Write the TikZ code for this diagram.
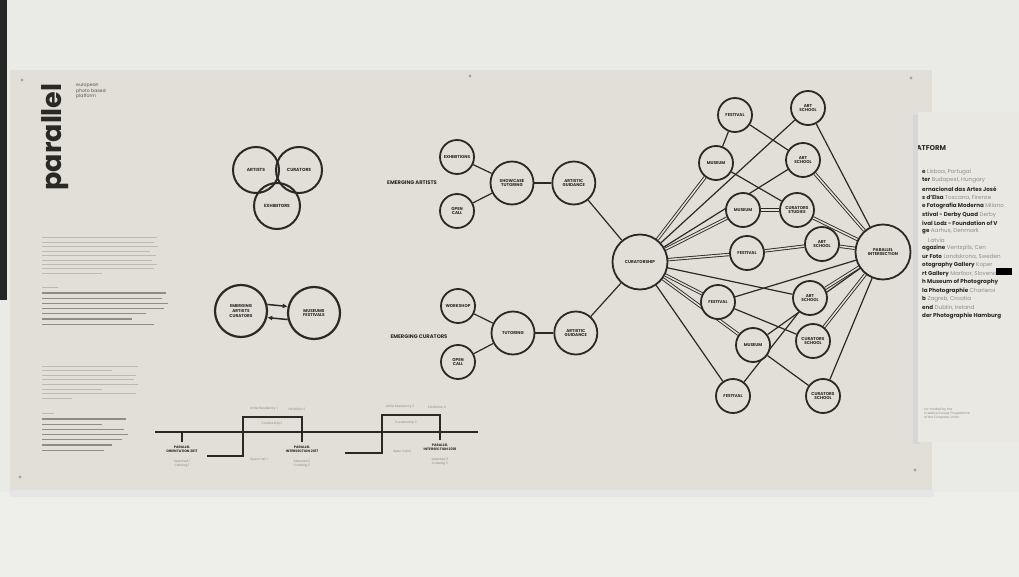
\documentclass[tikz,border=0pt]{standalone}
\usepackage{fontspec}
\setmainfont{Poppins}
\usetikzlibrary{arrows.meta,positioning,backgrounds}
\definecolor{ink}{HTML}{2A2926}
\definecolor{panel}{HTML}{E2DFD8}
\definecolor{wall}{HTML}{EAEAE7}
\definecolor{lowwall}{HTML}{EEEEEB}
\definecolor{greytext}{HTML}{8F8C86}
\definecolor{sidepanel}{HTML}{EAE8E3}
\pgfdeclarelayer{edges}
\pgfsetlayers{background,edges,main}
\tikzset{
  hub/.style={draw=ink, circle, line width=1.8pt, fill=panel, inner sep=0pt, align=center, text=ink, font=\fontsize{4.2}{4.9}\selectfont\bfseries},
  hubsmall/.style={hub, minimum size=34pt},
  hubmid/.style={hub, minimum size=43pt},
  hubbig/.style={hub, minimum size=55pt},
  venn/.style={draw=ink, circle, line width=2pt, minimum size=46pt, inner sep=0pt, align=center, text=ink, font=\fontsize{4.4}{5}\selectfont\bfseries},
  link/.style={draw=ink, line width=1.2pt},
  twin/.style={draw=ink, line width=0.9pt, double=panel, double distance=1.5pt},
  arr/.style={-{Latex[length=5pt,width=5pt]}, draw=ink, line width=1.5pt},
  caption/.style={font=\fontsize{5.2}{6}\selectfont\bfseries, text=ink},
  tinygrey/.style={font=\fontsize{3.2}{3.9}\selectfont, text=greytext, align=center},
  tinybold/.style={font=\fontsize{3.4}{4.1}\selectfont\bfseries, text=ink, align=center},
  timeline/.style={draw=ink, line width=1.4pt},
  greek/.style={draw=greytext!60, line width=1pt},
  greekdark/.style={draw=greytext, line width=1.1pt},
  listline/.style={anchor=west, inner sep=0pt, font=\fontsize{5.6}{6}\selectfont, text=greytext}
}
\begin{document}
\begin{tikzpicture}[x=1pt,y=-1pt]
\useasboundingbox (0,0) rectangle (1019,577);
% wall and panels
\begin{pgfonlayer}{background}
\fill[wall] (0,0) rectangle (1019,577);
\fill[lowwall] (0,492) rectangle (1019,577);
\fill[black!85] (0,0) rectangle (7,300);
\fill[black!10] (10,489) rectangle (934,497);
\fill[panel] (10,70) rectangle (932,490);
\foreach \p in {(22,80),(470,76),(911,78),(20,477),(915,470)}
  \fill[black!35] \p circle (1.6);
\fill[black!16] (913,115) rectangle (920,444);
\fill[sidepanel] (918,112) rectangle (1019,442);
\end{pgfonlayer}

% title block
\node[rotate=90, inner sep=0pt, text=ink, font=\fontsize{27}{27}\selectfont\bfseries] (brand) at (55,137) {parallel};
\node[anchor=north west, align=left, inner sep=0pt, text=ink!80, font=\fontsize{4.6}{5.4}\selectfont] (tagline) at (76,84) {european\\photo based\\platform};

% text columns
\foreach \i/\w in {0/115,1/112,2/116,3/108,4/114,5/110,6/115,7/112,8/60}
  \draw[greek] (42,238+4.4*\i) -- ++(\w,0);
\draw[greek] (42,287) -- ++(16,0);
\foreach \i/\w in {0/124,1/120,2/126,3/122,4/104,5/90,6/112}
  \draw[greekdark] (42,293+5.2*\i) -- ++(\w,0);
\foreach \i/\w in {0/96,1/70,2/94,3/92,4/96,5/60,6/94,7/30}
  \draw[greek] (42,366+4.6*\i) -- ++(\w,0);
\draw[greek] (42,413) -- ++(12,0);
\foreach \i/\w in {0/84,1/60,2/82,3/86,4/80,5/70,6/62}
  \draw[greekdark] (42,419+5.2*\i) -- ++(\w,0);

% three circles
\node[venn] (artists) at (256,170) {ARTISTS};
\node[venn] (curators) at (299,170) {CURATORS};
\node[venn] (exhibitors) at (277,206) {EXHIBITORS};

% emerging exchange
\node[hub, minimum size=52pt, line width=2.2pt] (emerging) at (241,311) {EMERGING\\ARTISTS\\CURATORS};
\node[hub, minimum size=52pt, line width=2.2pt] (museums) at (314,313) {MUSEUMS\\FESTIVALS};
\draw[arr] (emerging.14) -- (museums.166);
\draw[arr] (museums.194) -- (emerging.346);

% emerging artists
\node[caption] (artistsLabel) at (412,183) {EMERGING ARTISTS};
\node[hubsmall] (exhib) at (457,157) {EXHIBITIONS};
\node[hubsmall] (callA) at (457,211) {OPEN\\CALL};
\node[hubmid] (showcase) at (512,183) {SHOWCASE\\TUTORING};
\node[hubmid, right=17pt of showcase] (guideA) {ARTISTIC\\GUIDANCE};

% emerging curators
\node[caption] (curatorsLabel) at (419,337) {EMERGING CURATORS};
\node[hubsmall] (workshop) at (458,306) {WORKSHOP};
\node[hubsmall] (callC) at (458,362) {OPEN\\CALL};
\node[hubmid] (tutoring) at (513,333) {TUTORING};
\node[hubmid, right=18pt of tutoring] (guideC) {ARTISTIC\\GUIDANCE};

% network
\node[hubbig] (curship) at (640,262) {CURATORSHIP};
\node[hubbig] (inter) at (883,252) {PARALLEL\\INTERSECTION};
\node[hubsmall] (festA) at (735,115) {FESTIVAL};
\node[hubsmall] (musA) at (716,163) {MUSEUM};
\node[hubsmall] (musB) at (743,210) {MUSEUM};
\node[hubsmall] (festB) at (747,253) {FESTIVAL};
\node[hubsmall] (festC) at (718,302) {FESTIVAL};
\node[hubsmall] (musC) at (753,345) {MUSEUM};
\node[hubsmall] (festD) at (733,396) {FESTIVAL};
\node[hubsmall] (artA) at (808,108) {ART\\SCHOOL};
\node[hubsmall] (artB) at (803,160) {ART\\SCHOOL};
\node[hubsmall] (curStud) at (797,210) {CURATORS\\STUDIES};
\node[hubsmall] (artC) at (822,244) {ART\\SCHOOL};
\node[hubsmall] (artD) at (810,298) {ART\\SCHOOL};
\node[hubsmall] (curSchA) at (813,341) {CURATORS\\SCHOOL};
\node[hubsmall] (curSchB) at (823,396) {CURATORS\\SCHOOL};

\begin{pgfonlayer}{edges}
\foreach \a/\b in {exhib/showcase, callA/showcase, showcase/guideA, guideA/curship,
  workshop/tutoring, callC/tutoring, tutoring/guideC, guideC/curship,
  curship/artA, curship/artB, curship/artD, curship/festD,
  festA/musA, festA/artB, musA/curStud, festC/curSchA, festC/inter,
  festD/artD, musC/curSchB, musC/inter, artA/inter, curSchB/inter}
  \draw[link] (\a) -- (\b);
\foreach \a/\b in {curship/musA, curship/musB, curship/festB, curship/festC, curship/musC,
  musB/curStud, festB/artC, artB/inter, curStud/inter, artC/inter, artD/inter, curSchA/inter}
  \draw[twin] (\a) -- (\b);
\end{pgfonlayer}

% timeline
\coordinate (tlStart) at (155,432);
\coordinate (tlEnd) at (478,432);
\draw[timeline] (tlStart) -- (tlEnd);
\coordinate (tickA) at (182,432);
\coordinate (tickB) at (302,432);
\coordinate (tickC) at (440,432);
\node[tinybold] (orient) at (182,449) {PARALLEL\\ORIENTATION 2017};
\node[tinygrey, below=1pt of orient] (orientSub) {Selected 1\\Catalog 1};
\node[tinybold] (interA) at (302,449) {PARALLEL\\INTERSECTION 2017};
\node[tinygrey, below=1pt of interA] (interASub) {Selected 2\\Catalog 2};
\node[tinybold] (interB) at (440,447) {PARALLEL\\INTERSECTION 2018};
\node[tinygrey, below=1pt of interB] (interBSub) {Selected 3\\Catalog 3};
\draw[ink, line width=2.4pt] (tickA) -- (orient.north);
\draw[ink, line width=2.4pt] ([yshift=3pt]tickB) -- (interA.north);
\draw[ink, line width=2.4pt] ([yshift=3pt]tickC) -- (interB.north);
\coordinate (stepA) at (207,456);
\coordinate (stepB) at (345,453);
\draw[timeline, line width=1.3pt] (stepA) -| (243,417) -| (tickB);
\draw[timeline, line width=1.3pt] (stepB) -| (382,415) -| (tickC);
\node[tinygrey] (resA) at (264,409) {Artist Residency 1};
\node[tinygrey] (exA) at (297,409) {Exhibition 1};
\node[tinygrey] (curA) at (272,424) {Curatorship 1};
\node[tinygrey] (callLabelA) at (259,460) {Open Call 1};
\node[tinygrey] (resB) at (400,407) {Artist Residency 2};
\node[tinygrey] (exB) at (437,407) {Exhibition 2};
\node[tinygrey] (curB) at (406,423) {Curatorship 2};
\node[tinygrey] (callLabelB) at (402,452) {Open Call 2};

% partner panel
\begin{scope}
\clip (918,112) rectangle (1019,442);
\node[anchor=west, inner sep=0pt, text=ink, font=\fontsize{7}{7}\selectfont\bfseries] (platform) at (913,148) {LATFORM};
\foreach \t [count=\k] in {{\textbf{\color{ink}e} Lisboa, Portugal},
  {\textbf{\color{ink}ter} Budapest, Hungary},
  {\textbf{\color{ink}ernacional das Artes José}},
  {\textbf{\color{ink}s d'Elsa} Toscana, Firenze},
  {\textbf{\color{ink}e Fotografia Moderna} Milano},
  {\textbf{\color{ink}stival - Derby Quad} Derby},
  {\textbf{\color{ink}ival Lodz - Foundation of V}},
  {\textbf{\color{ink}ge} Aarhus, Denmark},
  {\hspace*{6pt}Latvia},
  {\textbf{\color{ink}agazine} Ventspils, Cen},
  {\textbf{\color{ink}ur Foto} Landskrona, Sweden},
  {\textbf{\color{ink}otography Gallery} Koper},
  {\textbf{\color{ink}rt Gallery} Maribor, Slovenia},
  {\textbf{\color{ink}h Museum of Photography}},
  {\textbf{\color{ink}la Photographie} Charleroi},
  {\textbf{\color{ink}b} Zagreb, Croatia},
  {\textbf{\color{ink}end} Dublin, Ireland},
  {\textbf{\color{ink}der Photographie Hamburg}}}
  \node[listline] (partner\k) at (922,163.5+8.5*\k) {\t};
\fill[black] (996,268) rectangle (1012,275);
\node[anchor=north west, align=left, inner sep=0pt, text=greytext, font=\fontsize{3.2}{4}\selectfont] (funding) at (924,408) {co-funded by the\\Creative Europe Programme\\of the European Union};
\end{scope}
\end{tikzpicture}
\end{document}
